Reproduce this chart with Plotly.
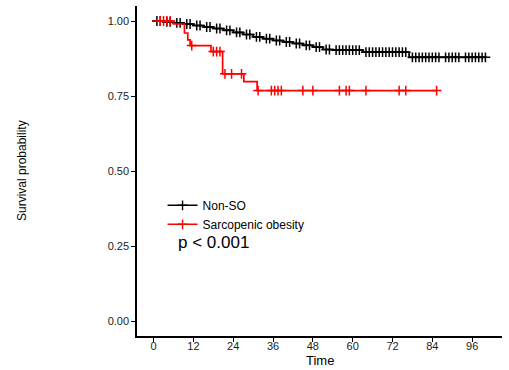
import plotly.graph_objects as go
import bisect

# ---- data ----
nonso_times = [0, 3, 6, 9, 12, 15, 18, 21, 24, 27, 30, 33, 36, 39, 42, 45, 48, 51, 54, 63, 77, 100]
nonso_surv  = [1.0, 0.997, 0.994, 0.990, 0.985, 0.980, 0.975, 0.969, 0.962, 0.955, 0.947, 0.941,
               0.935, 0.930, 0.925, 0.919, 0.913, 0.905, 0.903, 0.896, 0.879, 0.879]
nonso_censor = [1, 2, 4, 5, 7, 8, 10, 11, 13, 14, 16, 17, 19, 20, 22, 23, 25, 26, 28, 29, 31, 32,
                34, 35, 37, 38, 40, 41, 43, 44, 46, 47, 49, 50, 52, 53, 55, 56, 57, 58, 59, 60, 61,
                62, 64, 65, 66, 67, 68, 69, 70, 71, 72, 73, 74, 75, 76, 78, 79, 80, 81, 82, 83, 84,
                85, 86, 88, 89, 90, 91, 92, 94, 95, 96, 97, 98, 99, 100]

so_times = [0, 6, 9.3, 10.3, 11, 17.3, 20.8, 27.2, 31.2, 85.3]
so_surv  = [1.0, 0.99, 0.96, 0.937, 0.918, 0.898, 0.824, 0.798, 0.768, 0.768]
so_censor = [2, 3, 4, 5, 11.5, 18, 19, 20, 21.5, 23.5, 26.5, 31.5, 35.5, 36.5, 37.5, 38.5,
             45, 48, 56, 58, 59, 64, 74, 76, 85.3]

x_ticks = [0, 12, 24, 36, 48, 60, 72, 84, 96]
y_ticks = [0, 0.25, 0.5, 0.75, 1.0]
y_ticklabels = ["0.00", "0.25", "0.50", "0.75", "1.00"]

def surv_at(times, surv, t):
    i = bisect.bisect_right(times, t) - 1
    return surv[max(i, 0)]

fig = go.Figure()
for name, times, surv, cens, col in [
    ("Non-SO", nonso_times, nonso_surv, nonso_censor, "#000000"),
    ("Sarcopenic obesity", so_times, so_surv, so_censor, "#ff0000"),
]:
    fig.add_trace(go.Scatter(x=times, y=surv, mode="lines", line=dict(color=col, width=1.7, shape="hv"),
                             name=name, showlegend=False, hoverinfo="skip"))
    fig.add_trace(go.Scatter(x=cens, y=[surv_at(times, surv, c) for c in cens], mode="markers",
                             marker=dict(symbol="cross-thin", size=7, line=dict(color=col, width=1.5)),
                             showlegend=False, hoverinfo="skip"))
    fig.add_trace(go.Scatter(x=[None], y=[None], mode="lines+markers", name=name,
                             line=dict(color=col, width=1.6),
                             marker=dict(symbol="cross-thin", size=7, line=dict(color=col, width=1.4))))

fig.add_annotation(x=0.108, y=0.282, xref="paper", yref="paper", text="p < 0.001", showarrow=False,
                   xanchor="left", yanchor="middle", font=dict(size=17, color="#000000"))
fig.add_annotation(x=-0.315, y=0.5, xref="paper", yref="paper", text="Survival probability", showarrow=False,
                   textangle=-90, xanchor="center", yanchor="middle", font=dict(size=12, color="#000000"))
fig.add_annotation(x=0.5, y=-0.075, xref="paper", yref="paper", text="Time", showarrow=False,
                   xanchor="center", yanchor="middle", font=dict(size=13, color="#000000"))

fig.update_layout(
    width=509, height=370,
    margin=dict(l=137, r=7, t=6, b=34),
    paper_bgcolor="white", plot_bgcolor="white",
    font=dict(family="Liberation Sans, Arial, sans-serif", color="#000000"),
    legend=dict(x=0.07, y=0.44, xanchor="left", yanchor="top", bgcolor="rgba(0,0,0,0)",
                font=dict(size=12), itemwidth=30, tracegroupgap=0),
    xaxis=dict(range=[-5, 105], tickvals=x_ticks, showgrid=False, zeroline=False,
               showline=True, linecolor="black", linewidth=1.5, ticks="outside", ticklen=4,
               tickcolor="black", tickfont=dict(size=11, color="#222"), ticklabelstandoff=-5),
    yaxis=dict(range=[-0.05, 1.05], tickvals=y_ticks, ticktext=y_ticklabels, showgrid=False, zeroline=False,
               showline=True, linecolor="black", linewidth=1.5, ticks="outside", ticklen=4,
               tickcolor="black", tickfont=dict(size=11, color="#222")),
)
fig.write_html("out.html", config={"displayModeBar": False},
               post_script="document.body.style.margin='0';document.body.style.overflow='hidden';")
